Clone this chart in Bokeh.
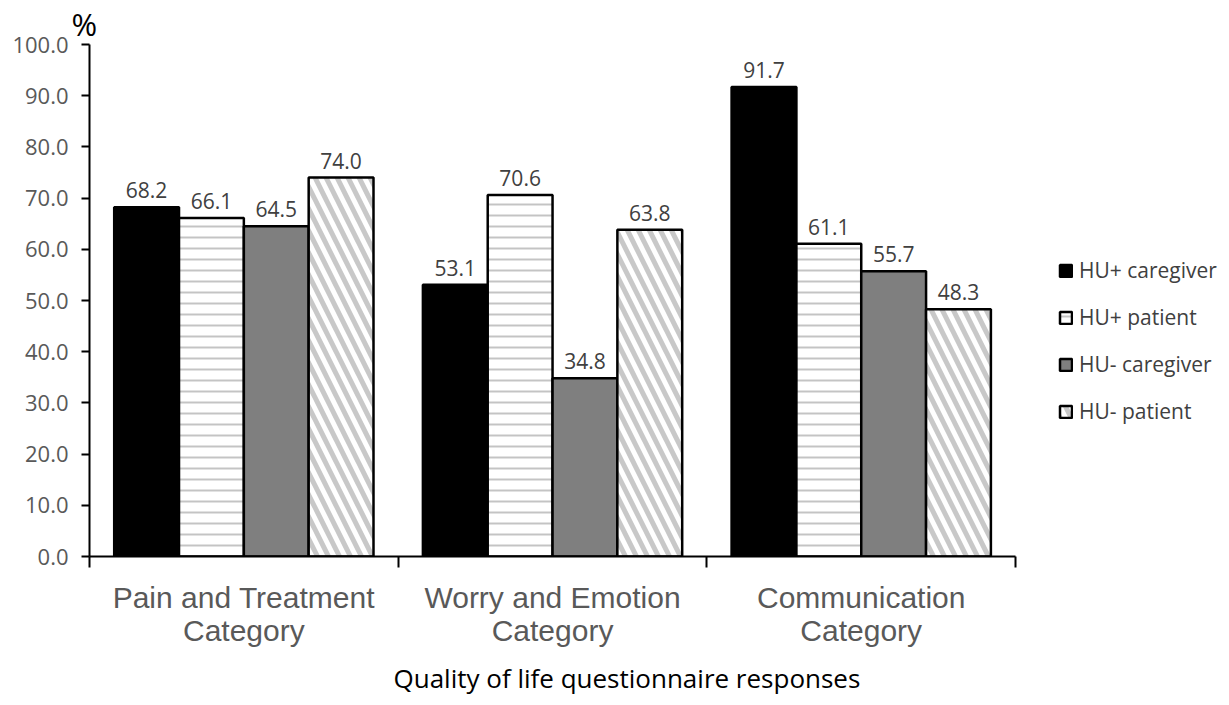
from bokeh.plotting import figure
from bokeh.models import (Range1d, FixedTicker, PrintfTickFormatter, Legend, LegendItem,
                          Title, ColumnDataSource)
from bokeh.core.properties import value
from bokeh.embed import file_html
from bokeh.resources import INLINE

categories = ["Pain and Treatment\nCategory", "Worry and Emotion\nCategory", "Communication\nCategory"]
series_names = ["HU+ caregiver", "HU+ patient", "HU- caregiver", "HU- patient"]
hu_pos_caregiver = [68.2, 53.1, 91.7]
hu_pos_patient = [66.1, 70.6, 61.1]
hu_neg_caregiver = [64.5, 34.8, 55.7]
hu_neg_patient = [74.0, 63.8, 48.3]
y_ticks = [0, 10, 20, 30, 40, 50, 60, 70, 80, 90, 100]
x_title = "Quality of life questionnaire responses"

series_values = [hu_pos_caregiver, hu_pos_patient, hu_neg_caregiver, hu_neg_patient]
offsets = [-0.315, -0.105, 0.105, 0.315]
bar_w = 0.21
styles = [
    dict(fill_color="black"),
    dict(fill_color="white", hatch_pattern="horizontal_line", hatch_color="#c4c4c4",
         hatch_scale=11, hatch_weight=2),
    dict(fill_color="#7f7f7f"),
    dict(fill_color="white", hatch_pattern="left_diagonal_line", hatch_color="#c8c8c8",
         hatch_scale=22, hatch_weight=5),
]

# frame spans 89..1225 px; categories occupy 0..3 (89..1015 px), rest holds the legend
p = figure(width=1225, height=704, output_backend="svg", toolbar_location=None,
           x_range=Range1d(0, 3.68), y_range=Range1d(0, 100),
           min_border_left=89, min_border_right=0, min_border_top=35, min_border_bottom=0)
p.outline_line_color = None
p.xgrid.grid_line_color = None
p.ygrid.grid_line_color = None

renderers = []
for vals, off, st, name in zip(series_values, offsets, styles, series_names):
    xs = [i + 0.5 + off for i in range(len(vals))]
    src = ColumnDataSource(dict(x=xs, top=vals, lbl=["%.1f" % v for v in vals]))
    r = p.vbar(x="x", top="top", width=bar_w, bottom=0, source=src,
               line_color="black", line_width=2.5, **st)
    renderers.append(r)
    p.text(x="x", y="top", text="lbl", source=src, text_align="center",
           text_baseline="alphabetic", y_offset=-17, text_color="#404040",
           text_font=value("Open Sans"), text_font_size="21px")

# y axis
ya = p.yaxis[0]
ya.ticker = FixedTicker(ticks=y_ticks)
ya.formatter = PrintfTickFormatter(format="%.1f")
ya.axis_line_color = "black"
ya.axis_line_width = 2
ya.major_tick_line_color = "black"
ya.major_tick_line_width = 2
ya.major_tick_out = 8
ya.major_tick_in = 0
ya.minor_tick_line_color = None
ya.major_label_standoff = 13
ya.major_label_text_font = "Open Sans"
ya.major_label_text_font_size = "22px"
ya.major_label_text_color = "#595959"

# x axis
xa = p.xaxis[0]
xa.bounds = (0, 3)
xa.ticker = FixedTicker(ticks=[0.5, 1.5, 2.5], minor_ticks=[0, 1, 2, 3])
xa.major_label_overrides = {0.5: categories[0], 1.5: categories[1], 2.5: categories[2]}
xa.axis_line_color = "black"
xa.axis_line_width = 2
xa.major_tick_line_color = None
xa.major_tick_out = 0
xa.major_tick_in = 0
xa.minor_tick_line_color = "black"
xa.minor_tick_line_width = 2
xa.minor_tick_out = 11
xa.minor_tick_in = 0
xa.major_label_standoff = 13
xa.major_label_text_font = "Liberation Sans"
xa.major_label_text_font_size = "30px"
xa.major_label_text_line_height = 1.0
xa.major_label_text_color = "#595959"

p.add_layout(Title(text=x_title, align="left", offset=304, text_font="Open Sans",
                   text_font_size="26px", text_font_style="normal", text_color="black",
                   standoff=17), "below")

# "%" unit label
p.add_layout(Title(text="%", align="left", offset=-18, text_font="Open Sans",
                   text_font_size="31px", text_font_style="normal", text_color="black",
                   standoff=0), "above")

legend = Legend(items=[LegendItem(label=n, renderers=[r]) for n, r in zip(series_names, renderers)],
                location=(969, 131), glyph_width=15, glyph_height=15, label_height=20,
                spacing=19, label_text_font="Open Sans", label_text_font_size="21px",
                label_text_color="#404040", label_standoff=6, padding=10,
                border_line_color=None, background_fill_alpha=0)
p.add_layout(legend)

open("out.html", "w").write(file_html(p, INLINE))
